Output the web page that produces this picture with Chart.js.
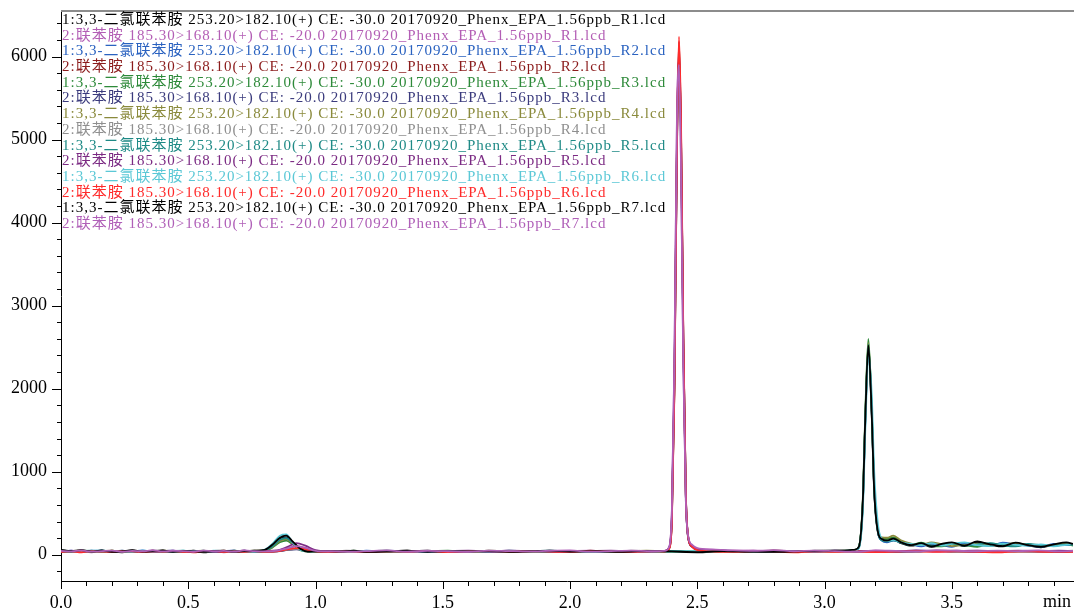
<!DOCTYPE html>
<html><head><meta charset="utf-8">
<script src="https://cdn.jsdelivr.net/npm/chart.js@4.4.0/dist/chart.umd.min.js"></script>
<style>html,body{margin:0;padding:0;background:#fff;}#wrap{position:relative;width:1074px;height:610px;}</style>
</head><body><div id="wrap"><canvas id="c" width="1074" height="610"></canvas></div>
<script>
// retention time grids (min)
const timesA = [0.00,0.04,0.08,0.12,0.16,0.20,0.24,0.28,0.32,0.36,
  0.40,0.44,0.48,0.52,0.56,0.60,0.64,0.68,0.72,0.76,
  0.80,0.83,0.86,0.885,0.91,0.94,0.97,1.00,
  1.05,1.10,1.15,1.20,1.28,1.36,1.44,1.52,1.60,1.68,1.76,1.84,1.92,2.00,
  2.10,2.20,2.30,2.40,2.50,2.60,2.70,2.80,2.90,3.00,
  3.08,3.12,3.135,3.15,3.16,3.172,3.185,3.195,3.21,3.225,
  3.245,3.27,3.30,3.34,3.38,3.42,3.46,3.50,3.55,3.60,3.65,3.70,3.75,3.80,3.85,3.90,3.95,3.976];
const timesB = [0.00,0.04,0.08,0.12,0.16,0.20,0.24,0.28,0.32,0.36,
  0.40,0.44,0.48,0.52,0.56,0.60,0.64,0.68,0.72,0.76,0.80,
  0.85,0.89,0.925,0.96,1.00,1.06,1.12,
  1.20,1.28,1.36,1.44,1.52,1.60,1.68,1.76,1.84,1.92,2.00,2.08,2.16,2.24,2.32,
  2.37,2.39,2.40,2.41,2.42,2.428,2.436,2.445,2.455,2.465,2.48,2.50,
  2.56,2.64,2.72,2.80,2.88,2.96,3.04,3.12,3.20,3.28,3.36,3.44,3.52,3.60,3.68,3.76,3.84,3.92,3.976];

// channel 1: 3,3'-dichlorobenzidine 253.20>182.10
const dcbR1 = [55,40,52,35,50,38,30,45,36,42, 48,35,44,38,30,42,46,36,40,44, 55,110,190,210,150,70,40,35,
  42,38,45,36,40,48,34,42,38,44,36,40,46,35, 40,34,44,38,30,42,36,32,40,45,
  48,60,95,620,1620,2480,1700,760,260,180,
  160,185,140,110,130,95,120,140,105,150,120,100,135,110,90,120,140,125];
const dcbR2 = [40,48,36,50,42,35,46,40,52,38, 44,50,38,42,48,36,44,50,38,42, 50,100,175,200,140,65,45,40,
  36,44,40,48,38,42,50,36,44,40,38,46,42,38, 46,40,36,44,40,48,38,44,36,42,
  45,55,90,590,1600,2500,1740,790,270,170,
  150,170,155,125,100,130,115,95,140,120,105,145,125,110,95,130,115,120];
const dcbR3 = [45,38,50,42,36,48,40,44,38,50, 42,46,38,50,40,44,36,48,42,38, 45,85,150,170,125,55,38,42,
  44,38,48,40,36,44,42,50,38,44,40,36,48,42, 38,46,40,36,48,42,38,46,40,44,
  50,58,100,650,1720,2600,1760,800,280,200,
  190,210,160,120,145,110,100,130,115,95,135,120,105,125,100,115,130,110];
const dcbR4 = [38,44,48,36,42,50,38,46,40,36, 50,42,36,44,48,40,38,46,42,48, 48,95,165,190,135,60,42,38,
  40,46,36,42,50,38,44,40,36,48,42,38,44,40, 42,38,48,40,44,36,42,48,38,40,
  44,56,92,610,1660,2550,1780,820,300,210,
  205,230,175,135,120,150,125,105,120,135,110,125,140,115,105,120,135,125];
const dcbR5 = [42,36,44,50,38,42,48,36,44,40, 38,44,50,36,42,46,40,38,48,40, 52,100,180,200,145,65,40,44,
  38,42,46,38,44,40,36,46,42,38,48,40,36,44, 44,40,38,46,36,44,40,38,46,42,
  46,58,95,600,1640,2530,1760,800,270,175,
  160,175,145,115,135,105,125,140,110,125,140,115,100,130,115,105,125,120];
const dcbR6 = [50,44,38,46,52,40,44,38,48,42, 46,40,48,42,38,50,44,40,46,38, 60,130,230,245,150,60,42,40,
  46,40,36,44,48,42,38,44,40,46,36,42,48,40, 36,44,42,38,46,40,44,36,42,40,
  42,50,80,520,1500,2380,1950,1000,360,190,
  165,180,150,130,115,140,110,130,150,115,105,135,120,110,125,100,120,130];
const dcbR7 = [60,45,55,38,52,35,42,55,38,45, 52,36,46,40,34,46,50,38,44,48, 58,120,205,230,160,72,38,42,
  45,40,48,35,42,50,36,44,40,46,35,42,48,38, 42,36,46,40,32,44,38,34,42,48,
  50,62,98,630,1640,2520,1720,780,270,190,
  170,195,150,115,140,100,130,150,110,160,125,105,145,115,95,125,150,130];

// channel 2: benzidine 185.30>168.10
const bzdR1 = [35,48,40,30,44,38,50,36,42,32, 46,40,34,48,38,44,30,42,50,36,40, 48,75,100,80,45,38,44,
  36,50,40,34,46,42,38,52,40,36,44,48,38,42,46,
  44,95,520,2300,5300,5950,4700,2300,650,200,110,75,
  60,48,52,40,46,38,44,36,48,42,50,38,44,52,40,46,38,44,40];
const bzdR2 = [42,36,46,40,34,48,38,44,40,50, 36,44,40,46,34,42,48,38,44,40,36, 42,60,72,58,40,44,36,
  46,38,42,50,36,44,40,46,38,42,36,48,40,44,38,
  40,80,420,2000,4950,6180,5100,2600,700,190,100,60,
  48,42,36,50,40,44,38,46,36,42,38,46,40,34,44,38,42,36,40];
const bzdR3 = [38,44,36,42,48,34,44,40,36,46, 40,34,46,38,42,36,44,48,38,42,44, 40,58,66,52,42,36,46,
  40,44,36,42,38,46,40,34,44,38,42,46,36,40,44,
  42,85,450,2050,4900,6050,5000,2550,690,185,95,55,
  44,38,46,40,36,42,48,38,44,36,40,46,38,42,36,44,40,38,42];
const bzdR4 = [44,38,50,42,36,46,40,52,38,44, 48,38,42,50,36,46,40,44,38,48,42, 46,62,70,55,44,40,48,
  42,38,46,44,40,36,48,42,38,46,44,40,36,48,42,
  44,82,430,2000,4850,6000,5050,2600,720,200,105,62,
  50,44,40,46,38,48,42,36,46,40,44,50,38,42,46,40,36,44,48];
const bzdR5 = [40,46,38,44,50,36,42,48,40,38, 44,50,38,42,46,40,36,44,48,40,46, 52,95,140,110,55,40,44,
  38,46,42,36,44,48,40,38,46,42,36,44,48,40,38,
  46,90,460,2100,5000,6100,5050,2600,700,195,100,62,
  52,46,40,48,44,38,50,42,46,40,52,44,48,40,46,50,42,48,44];
const bzdR6 = [36,42,30,44,38,34,46,40,32,42, 38,44,36,30,42,46,34,40,36,44,38, 44,65,80,62,42,36,40,
  34,42,38,46,32,40,44,36,42,38,34,46,40,36,42,
  38,78,400,1950,4900,6240,5200,2650,720,200,95,55,
  40,34,44,38,30,42,36,40,32,38,44,34,40,36,30,42,38,34,36];
const bzdR7 = [46,40,52,38,44,50,36,46,42,54, 40,48,44,36,50,42,46,38,52,44,40, 50,78,105,85,48,42,38,
  44,52,38,46,42,36,50,44,40,48,52,38,44,50,42,
  46,100,540,2350,5250,5900,4650,2250,640,210,120,80,
  64,52,46,56,42,50,44,38,52,46,40,54,48,42,50,44,52,40,46];

const seriesLabels = [
  '1:3,3-二氯联苯胺 253.20>182.10(+) CE: -30.0 20170920_Phenx_EPA_1.56ppb_R1.lcd',
  '2:联苯胺 185.30>168.10(+) CE: -20.0 20170920_Phenx_EPA_1.56ppb_R1.lcd',
  '1:3,3-二氯联苯胺 253.20>182.10(+) CE: -30.0 20170920_Phenx_EPA_1.56ppb_R2.lcd',
  '2:联苯胺 185.30>168.10(+) CE: -20.0 20170920_Phenx_EPA_1.56ppb_R2.lcd',
  '1:3,3-二氯联苯胺 253.20>182.10(+) CE: -30.0 20170920_Phenx_EPA_1.56ppb_R3.lcd',
  '2:联苯胺 185.30>168.10(+) CE: -20.0 20170920_Phenx_EPA_1.56ppb_R3.lcd',
  '1:3,3-二氯联苯胺 253.20>182.10(+) CE: -30.0 20170920_Phenx_EPA_1.56ppb_R4.lcd',
  '2:联苯胺 185.30>168.10(+) CE: -20.0 20170920_Phenx_EPA_1.56ppb_R4.lcd',
  '1:3,3-二氯联苯胺 253.20>182.10(+) CE: -30.0 20170920_Phenx_EPA_1.56ppb_R5.lcd',
  '2:联苯胺 185.30>168.10(+) CE: -20.0 20170920_Phenx_EPA_1.56ppb_R5.lcd',
  '1:3,3-二氯联苯胺 253.20>182.10(+) CE: -30.0 20170920_Phenx_EPA_1.56ppb_R6.lcd',
  '2:联苯胺 185.30>168.10(+) CE: -20.0 20170920_Phenx_EPA_1.56ppb_R6.lcd',
  '1:3,3-二氯联苯胺 253.20>182.10(+) CE: -30.0 20170920_Phenx_EPA_1.56ppb_R7.lcd',
  '2:联苯胺 185.30>168.10(+) CE: -20.0 20170920_Phenx_EPA_1.56ppb_R7.lcd'
];
const seriesColors = ['#000000','#b35eb5','#2a62c0','#8b1c1c','#2e8a3a','#3b3b7d','#8a8a3c',
  '#8f8f8f','#1f8a86','#7b2a83','#5bc8d6','#ff2a2a','#000000','#b060b8'];
const seriesValues = [dcbR1,bzdR1,dcbR2,bzdR2,dcbR3,bzdR3,dcbR4,bzdR4,dcbR5,bzdR5,dcbR6,bzdR6,dcbR7,bzdR7];
const seriesTimes = [timesA,timesB,timesA,timesB,timesA,timesB,timesA,timesB,timesA,timesB,timesA,timesB,timesA,timesB];

const xTickValues = [0,0.5,1.0,1.5,2.0,2.5,3.0,3.5];
const xTickLabels = ['0.0','0.5','1.0','1.5','2.0','2.5','3.0','3.5'];
const yTickValues = [0,1000,2000,3000,4000,5000,6000];
const yTickLabels = ['0','1000','2000','3000','4000','5000','6000'];
const xUnitLabel = 'min';

const datasets = seriesValues.map((vals, i) => ({
  label: seriesLabels[i],
  data: seriesTimes[i].map((t, k) => ({x: t, y: vals[k]})),
  borderColor: seriesColors[i],
  backgroundColor: seriesColors[i],
  borderWidth: 1.8,
  pointRadius: 0,
  cubicInterpolationMode: 'monotone',
  fill: false,
  order: seriesValues.length - i
}));

const tickFont = {family: '"Liberation Serif", "Times New Roman", serif', size: 18};

const decor = {
  id: 'decor',
  afterDraw(chart) {
    const {ctx, chartArea: a, scales: {x, y}} = chart;
    ctx.save();
    ctx.strokeStyle = '#000'; ctx.lineWidth = 1;
    for (let k = -1; k <= 32; k++) {
      const v = k * 200;
      if (v < y.min || v > y.max) continue;
      const py = Math.round(y.getPixelForValue(v)) + 0.5;
      const len = (v % 1000 === 0) ? 9 : 4;
      ctx.beginPath(); ctx.moveTo(a.left - len, py); ctx.lineTo(a.left, py); ctx.stroke();
    }
    for (let k = 0; k <= 39; k++) {
      const v = k / 10;
      if (v > x.max) continue;
      const px = Math.round(x.getPixelForValue(v)) + 0.5;
      const len = (k % 5 === 0) ? 8 : 5;
      ctx.beginPath(); ctx.moveTo(px, a.bottom); ctx.lineTo(px, a.bottom + len); ctx.stroke();
    }
    ctx.strokeStyle = '#8c8c8c'; ctx.lineWidth = 2;
    ctx.beginPath(); ctx.moveTo(a.left, a.top); ctx.lineTo(a.right + 2, a.top); ctx.stroke();
    ctx.font = '15px "Liberation Serif", "Noto Sans CJK SC"';
    ctx.letterSpacing = '1px';
    ctx.textBaseline = 'middle'; ctx.textAlign = 'left';
    seriesLabels.forEach((s, i) => {
      ctx.fillStyle = seriesColors[i];
      ctx.fillText(s, a.left + 1, a.top + 9 + i * 15.7);
    });
    ctx.letterSpacing = '0px';
    ctx.font = '18px "Liberation Serif"';
    ctx.fillStyle = '#000'; ctx.textAlign = 'center';
    ctx.fillText(xUnitLabel, a.right - 16, a.bottom + 21);
    ctx.restore();
  }
};

new Chart(document.getElementById('c'), {
  type: 'line',
  data: {datasets},
  options: {
    responsive: false, animation: false, devicePixelRatio: 1,
    layout: {padding: {top: 11, right: 1, left: 0, bottom: 0}},
    plugins: {legend: {display: false}, tooltip: {enabled: false}},
    scales: {
      x: {
        type: 'linear', min: 0, max: 3.976,
        grid: {display: false, drawTicks: false},
        border: {display: true, color: '#000', width: 1},
        afterBuildTicks: s => { s.ticks = xTickValues.map(v => ({value: v})); },
        afterFit: s => { s.height = 29; s.paddingLeft = 0; s.paddingRight = 0; },
        ticks: {font: tickFont, color: '#000', padding: 11, maxRotation: 0, autoSkip: false,
          callback: (v, i) => xTickLabels[i]}
      },
      y: {
        type: 'linear', min: -316, max: 6548,
        grid: {display: false, drawTicks: false},
        border: {display: true, color: '#000', width: 1},
        afterBuildTicks: s => { s.ticks = yTickValues.map(v => ({value: v})); },
        afterFit: s => { s.width = 61; s.paddingTop = 0; s.paddingBottom = 0; },
        ticks: {font: tickFont, color: '#000', padding: 14, autoSkip: false,
          callback: (v, i) => yTickLabels[i]}
      }
    }
  },
  plugins: [decor]
});
</script></body></html>
